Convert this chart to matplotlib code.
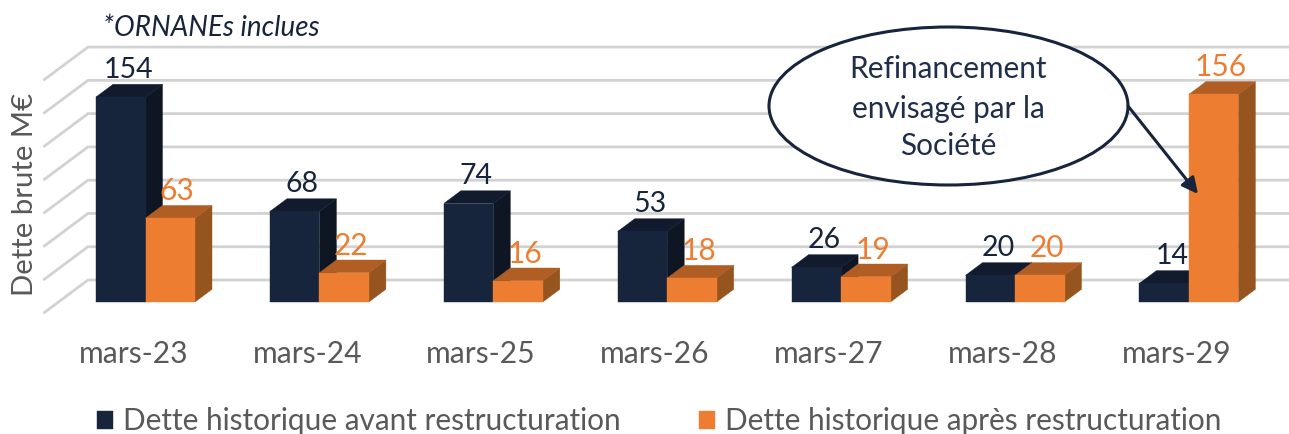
import matplotlib
matplotlib.use("Agg")
import matplotlib.pyplot as plt
from matplotlib.patches import Polygon, Ellipse, FancyArrowPatch
from matplotlib.transforms import Affine2D

categories = ["mars-23", "mars-24", "mars-25", "mars-26", "mars-27", "mars-28", "mars-29"]
avant = [154, 68, 74, 53, 26, 20, 14]
apres = [63, 22, 16, 18, 19, 20, 156]
grid_values = [0, 25, 50, 75, 100, 125, 150, 175]
name_avant = "Dette historique avant restructuration"
name_apres = "Dette historique après restructuration"

W, H = 1289, 434
PX_X, PX_Y = 173.9, 1.331
X0, Y0 = 145.5, 302
NAVY, NAVY_TOP, NAVY_SIDE = "#16243C", "#111B2D", "#0E1623"
ORANGE, ORANGE_TOP, ORANGE_SIDE = "#ED7D31", "#B15E24", "#96541E"
GREY = "#595959"
FONT = ["Lato", "DejaVu Sans"]

plt.rcParams["font.family"] = FONT
fig = plt.figure(figsize=(W / 100, H / 100), dpi=100)
ax = fig.add_axes([0, 0, 1, 1])
ax.set_xlim((0 - X0) / PX_X, (W - X0) / PX_X)
ax.set_ylim((Y0 - H) / PX_Y, Y0 / PX_Y)
ax.axis("off")

pix = Affine2D().scale(1, -1).translate(0, H)  # reference pixels, y down

bar_w = 49.5 / PX_X
dx, dy = 17 / PX_X, 12.7 / PX_Y
wall_dy = 22 / PX_Y
floor_dy = -10.4 / PX_Y
wall_left = (88 - X0) / PX_X
front_left = (44.5 - X0) / PX_X
right = (W - X0) / PX_X

for v in grid_values:
    ax.plot([front_left, wall_left, right], [v + floor_dy, v + wall_dy, v + wall_dy],
            color="#D2D2D2", lw=2.0, zorder=1, solid_joinstyle="miter")

xs = range(len(categories))


def box(x_left, v, front, top, side, z, label=None):
    x_right = x_left + bar_w
    ax.add_patch(Polygon([(x_right, 0), (x_right + dx, dy), (x_right + dx, v + dy), (x_right, v)],
                         facecolor=side, edgecolor=side, lw=0.3, zorder=z))
    ax.add_patch(Polygon([(x_left, v), (x_left + dx, v + dy), (x_right + dx, v + dy), (x_right, v)],
                         facecolor=top, edgecolor=top, lw=0.3, zorder=z))
    return ax.bar(x_left, v, bar_w, align="edge", color=front, edgecolor=front, lw=0.3,
                  zorder=z + 0.1, label=label)


lab_up = 20.4
for i in xs:
    box(i - bar_w, avant[i], NAVY, NAVY_TOP, NAVY_SIDE, 3 + i,
        label=name_avant if i == 0 else None)
    box(i, apres[i], ORANGE, ORANGE_TOP, ORANGE_SIDE, 3.3 + i,
        label=name_apres if i == 0 else None)
    ax.text(i - bar_w / 2 + 0.045, avant[i] + lab_up, str(avant[i]), color=NAVY, fontsize=20.5,
            ha="center", va="center", zorder=20)
    ax.text(i + bar_w / 2 + 0.04, apres[i] + lab_up, str(apres[i]), color=ORANGE, fontsize=21.5,
            ha="center", va="center", zorder=20)
    ax.text(i - 0.07, -39, categories[i], color=GREY, fontsize=21.6, ha="center", va="center")

ax.text(25, 194, "Dette brute M€", transform=pix, rotation=90, color=GREY, fontsize=21.2,
        ha="center", va="center")
ax.text(103, 28.5, "*ORNANEs inclues", transform=pix, style="italic", color=NAVY, fontsize=20,
        ha="left", va="center")

ax.add_patch(Ellipse((948.5, 106), 359, 158, transform=pix, facecolor="white",
                     edgecolor=NAVY, lw=2.2, zorder=30))
for y, s in zip([69, 109, 146], ["Refinancement", "envisagé par la", "Société"]):
    ax.text(948, y, s, transform=pix, color="#1F2E49", fontsize=21.4, ha="center", va="center", zorder=31)
ax.add_patch(FancyArrowPatch((1128, 106), (1198, 194), transform=pix, arrowstyle="-|>",
                             mutation_scale=24, color=NAVY, lw=2.2, shrinkA=0, shrinkB=0, zorder=32))

ax.legend(loc="lower left", bbox_to_anchor=(70 / W, -0.065), ncol=2, frameon=False, fontsize=21.4,
          labelcolor=GREY, handlelength=0.55, handleheight=0.55, handletextpad=0.32, columnspacing=2.65)

fig.savefig("out.png", dpi=100)
